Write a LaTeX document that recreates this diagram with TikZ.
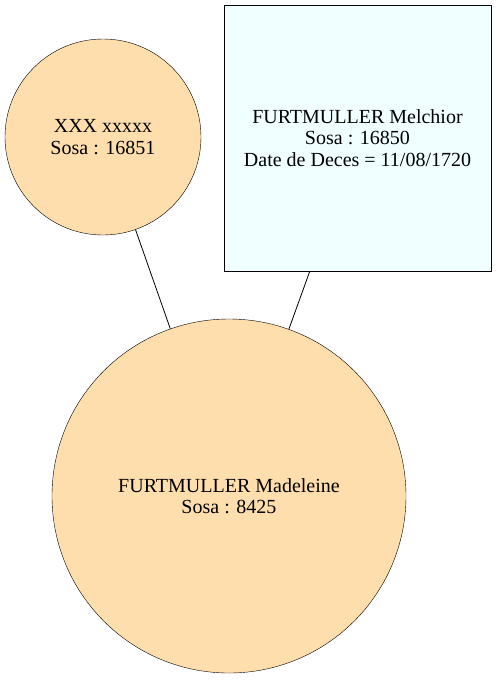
\documentclass[tikz,border=0pt]{standalone}
\usepackage{fontspec}
\setmainfont{Liberation Serif}
\begin{document}
\begin{tikzpicture}[x=1pt,y=-1pt,
  person/.style={circle,draw=black,fill={rgb,255:red,255;green,222;blue,173},inner sep=0pt,align=center,font=\fontsize{20}{21.5}\selectfont},
  infobox/.style={rectangle,draw=black,fill={rgb,255:red,240;green,255;blue,255},inner sep=0pt,align=center,font=\fontsize{20}{21.5}\selectfont},
  link/.style={draw=black,line width=0.8pt}]
\useasboundingbox (0,0) rectangle (496,680);
\node[person,minimum size=196pt] (x) at (103,137) {XXX xxxxx\\Sosa : 16851};
\node[infobox,minimum width=267pt,minimum height=266pt] (m) at (357.5,138) {FURTMULLER Melchior\\Sosa : 16850\\Date de Deces = 11/08/1720};
\node[person,minimum size=354pt] (f) at (229,496) {FURTMULLER Madeleine\\Sosa : 8425};
\draw[link] (x) -- (f);
\draw[link] (m) -- (f);
\end{tikzpicture}
\end{document}
